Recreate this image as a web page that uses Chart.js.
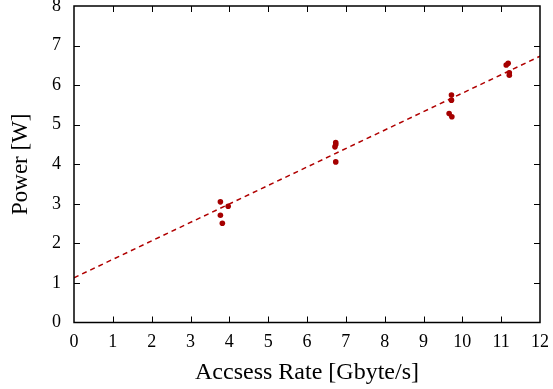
<!DOCTYPE html>
<html><head><meta charset="utf-8">
<script src="https://cdn.jsdelivr.net/npm/chart.js@4/dist/chart.umd.min.js"></script>
<style>html,body{margin:0;padding:0;background:#fff}#wrap{width:553px;height:389px}</style>
</head><body><div id="wrap"><canvas id="c" width="553" height="389"></canvas></div>
<script>
const accessRate = [3.77, 3.97, 3.77, 3.82, 6.74, 6.72, 6.74, 6.74, 9.72, 9.72, 9.66, 9.73, 11.18, 11.13, 11.21, 11.21];
const power      = [3.05, 2.94, 2.71, 2.51, 4.55, 4.44, 4.50, 4.06, 5.75, 5.62, 5.28, 5.20, 6.55, 6.51, 6.31, 6.25];
const fitX = [0, 12];
const fitY = [1.13, 6.73];
const xTicks = [0,1,2,3,4,5,6,7,8,9,10,11,12];
const yTicks = [0,1,2,3,4,5,6,7,8];
const xTitle = 'Accsess Rate [Gbyte/s]';
const yTitle = 'Power [W]';

const RED = '#a50000';
const FONT = '"Liberation Serif", "Times New Roman", serif';

const framePlugin = {
  id: 'frame',
  afterDatasetsDraw(chart) {
    const {ctx, chartArea: a, scales: {x, y}} = chart;
    ctx.save();
    ctx.strokeStyle = '#000';
    ctx.lineWidth = 1;
    const L = 6;
    ctx.beginPath();
    xTicks.forEach(v => {
      const px = Math.round(x.getPixelForValue(v)) + 0.5;
      if (v === xTicks[0] || v === xTicks[xTicks.length-1]) return;
      ctx.moveTo(px, a.bottom); ctx.lineTo(px, a.bottom - L);
      ctx.moveTo(px, a.top); ctx.lineTo(px, a.top + L);
    });
    yTicks.forEach(v => {
      const py = Math.round(y.getPixelForValue(v)) + 0.5;
      if (v === yTicks[0] || v === yTicks[yTicks.length-1]) return;
      ctx.moveTo(a.left, py); ctx.lineTo(a.left + L, py);
      ctx.moveTo(a.right, py); ctx.lineTo(a.right - L, py);
    });
    ctx.stroke();
    ctx.lineWidth = 1.5;
    ctx.strokeRect(a.left, a.top, a.right - a.left, a.bottom - a.top);
    ctx.restore();
  }
};

new Chart(document.getElementById('c'), {
  type: 'scatter',
  data: {
    datasets: [
      {
        type: 'line',
        data: fitX.map((v, i) => ({x: v, y: fitY[i]})),
        borderColor: '#b00000',
        borderWidth: 1.5,
        borderDash: [5, 4],
        pointRadius: 0,
        fill: false
      },
      {
        data: accessRate.map((v, i) => ({x: v, y: power[i]})),
        backgroundColor: RED,
        borderColor: RED,
        pointRadius: 2.8,
        pointBorderWidth: 0
      }
    ]
  },
  options: {
    responsive: false,
    animation: false,
    layout: {padding: {top: 6, right: 13, left: 0, bottom: 0}},
    plugins: {legend: {display: false}, tooltip: {enabled: false}},
    scales: {
      x: {
        type: 'linear', min: 0, max: 12,
        afterBuildTicks: s => { s.ticks = xTicks.map(v => ({value: v})); },
        afterFit: s => { s.height = 66.5; s.paddingLeft = 0; s.paddingRight = 0; },
        grid: {display: false, drawTicks: false},
        border: {display: false},
        ticks: {color: '#000', font: {family: FONT, size: 18}, padding: 9, maxRotation: 0},
        title: {display: true, text: xTitle, color: '#000', font: {family: FONT, size: 24}, padding: {top: 0, bottom: 2}}
      },
      y: {
        type: 'linear', min: 0, max: 8,
        afterBuildTicks: s => { s.ticks = yTicks.map(v => ({value: v})); },
        afterFit: s => { s.width = 74; s.paddingTop = 0; s.paddingBottom = 0; },
        grid: {display: false, drawTicks: false},
        border: {display: false},
        ticks: {color: '#000', font: {family: FONT, size: 18}, padding: 13},
        title: {display: true, text: yTitle, color: '#000', font: {family: FONT, size: 23}, padding: {top: 7, bottom: 0}}
      }
    }
  },
  plugins: [framePlugin]
});
</script></body></html>
